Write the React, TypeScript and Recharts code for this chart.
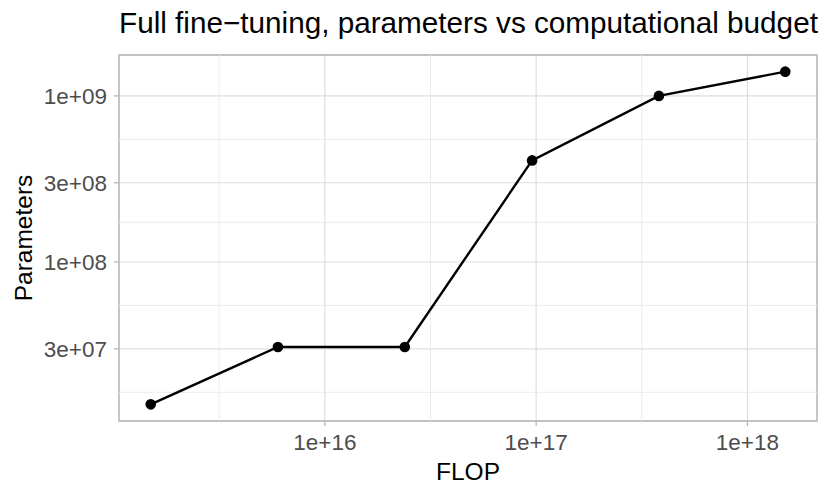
import { LineChart, Line, XAxis, YAxis, CartesianGrid, ReferenceLine, ReferenceArea, Label } from 'recharts';

const flop = [1.5e15, 6.0e15, 2.39e16, 9.57e16, 3.81e17, 1.51e18];
const params = [1.39e7, 3.08e7, 3.08e7, 4.09e8, 1.0e9, 1.4e9];

const xTicks = [1e16, 1e17, 1e18];
const yTicks = [3e7, 1e8, 3e8, 1e9];
const xMinor = [3.162e15, 3.162e16, 3.162e17];
const yMinor = [1.643e7, 5.477e7, 1.732e8, 5.477e8];

const data = flop.map((f, i) => ({ flop: f, params: params[i] }));

// ggplot style 5% expansion in log space
const logPad = (vals: number[]): [number, number] => {
  const lo = Math.log10(Math.min(...vals));
  const hi = Math.log10(Math.max(...vals));
  const pad = (hi - lo) * 0.05;
  return [Math.pow(10, lo - pad), Math.pow(10, hi + pad)];
};

const xDomain = logPad(flop);
const yDomain = logPad(params);

const sci = (v: number) => {
  const [m, e] = v.toExponential(0).split('e');
  const sign = e[0];
  const digits = e.slice(1).padStart(2, '0');
  return `${m}e${sign}${digits}`;
};

const FONT = '"Liberation Sans", Arial, Helvetica, sans-serif';
const tickStyle = { fontSize: 22.5, fill: '#4d4d4d', fontFamily: FONT };

export default function App() {
  return (
    <div style={{ position: 'absolute', left: 0, top: 0, width: 830, height: 498, background: '#fff' }}>
      <div
        style={{
          position: 'absolute',
          left: 119,
          top: 6,
          fontFamily: FONT,
          fontSize: 29.7,
          color: '#000',
          whiteSpace: 'nowrap',
          lineHeight: '34px',
        }}
      >
        Full fine−tuning, parameters vs computational budget
      </div>
      <LineChart width={830} height={498} data={data} margin={{ top: 55, right: 13, bottom: 0, left: 0 }}>
        {xMinor.map((v) => (
          <ReferenceLine key={`xm-${v}`} x={v} stroke="#ebebeb" strokeWidth={1} />
        ))}
        {yMinor.map((v) => (
          <ReferenceLine key={`ym-${v}`} y={v} stroke="#ebebeb" strokeWidth={1} />
        ))}
        <CartesianGrid stroke="#dedede" strokeWidth={1.2} />
        <XAxis
          dataKey="flop"
          type="number"
          scale="log"
          domain={xDomain}
          allowDataOverflow
          ticks={xTicks}
          tickFormatter={sci}
          tick={tickStyle}
          tickSize={5}
          tickMargin={8}
          tickLine={{ stroke: '#b3b3b3', strokeWidth: 1.2 }}
          axisLine={false}
          height={77}
        >
          <Label
            value="FLOP"
            position="insideBottom"
            offset={18}
            style={{ fontSize: 24.5, fill: '#000', fontFamily: FONT }}
          />
        </XAxis>
        <YAxis
          dataKey="params"
          type="number"
          scale="log"
          domain={yDomain}
          allowDataOverflow
          ticks={yTicks}
          tickFormatter={sci}
          tick={tickStyle}
          tickSize={5}
          tickMargin={7}
          tickLine={{ stroke: '#b3b3b3', strokeWidth: 1.2 }}
          axisLine={false}
          width={119}
        >
          <Label
            content={() => (
              <text
                x={32}
                y={238}
                transform="rotate(-90, 32, 238)"
                textAnchor="middle"
                style={{ fontSize: 24.5, fill: '#000', fontFamily: FONT }}
              >
                Parameters
              </text>
            )}
          />
        </YAxis>
        <ReferenceArea
          x1={xDomain[0]}
          x2={xDomain[1]}
          y1={yDomain[0]}
          y2={yDomain[1]}
          fill="none"
          stroke="#b3b3b3"
          strokeWidth={1.3}
          ifOverflow="extendDomain"
        />
        <Line
          type="linear"
          dataKey="params"
          stroke="#000"
          strokeWidth={2.4}
          dot={{ r: 5.3, fill: '#000', stroke: 'none' }}
          activeDot={false}
          isAnimationActive={false}
        />
      </LineChart>
    </div>
  );
}
